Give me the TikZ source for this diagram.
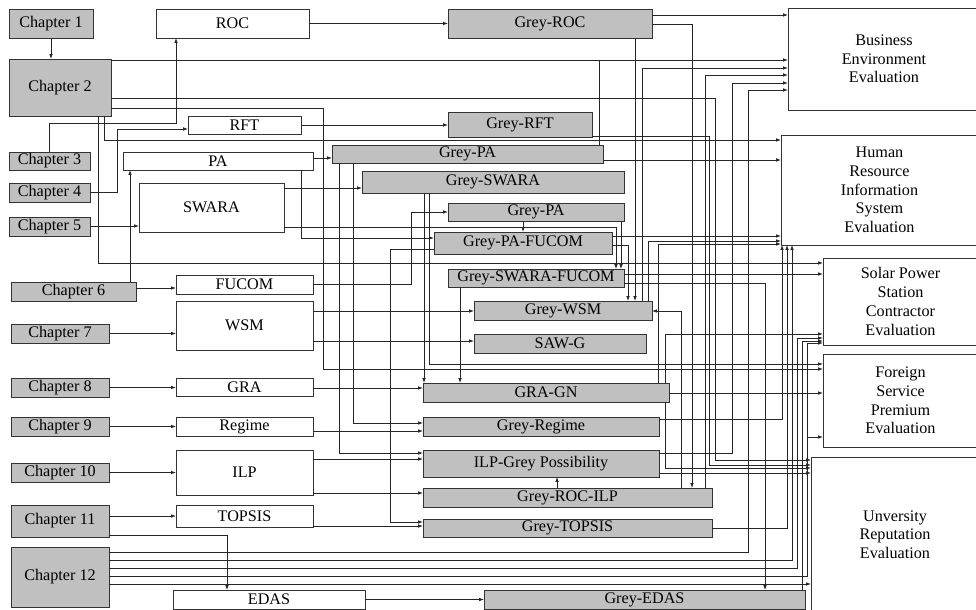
\documentclass[tikz,border=0pt]{standalone}
\usepackage{fontspec}
\setmainfont{Liberation Serif}
\usetikzlibrary{arrows.meta}

\definecolor{boxgrey}{HTML}{C0C0C0}
\tikzset{
  wbox/.style={draw=black!80, fill=white, line width=0.7pt, inner sep=0pt, outer sep=0pt,
    align=center, font=\fontsize{11.5}{13.3}\selectfont},
  gbox/.style={wbox, fill=boxgrey},
  wire/.style={line width=0.6pt, draw=black!85},
  arr/.style={wire, -{Latex[length=3.5pt,width=2.6pt]}}
}

\begin{document}
\begin{tikzpicture}[x=0.025cm,y=-0.025cm]
\useasboundingbox (0,0) rectangle (976,610);

% Главы (серые блоки)
\foreach \n/\xl/\yt/\xr/\yb/\t in {c1/9/9/93/38/{Chapter 1}, c2/9/59/111/116/{Chapter 2},
    c3/9/152/90/170/{Chapter 3}, c4/9/183/90/202/{Chapter 4}, c5/9/217/90/236/{Chapter 5},
    c6/11/282/136/301/{Chapter 6}, c7/11/324/109/343/{Chapter 7}, c8/11/378/109/397/{Chapter 8},
    c9/11/417/109/436/{Chapter 9}, c10/11/463/109/482/{Chapter 10},
    c11/11/505/109/537/{Chapter 11}, c12/11/547/109/607/{Chapter 12}}
  \node[gbox, minimum width={(\xr-\xl)*0.025cm}, minimum height={(\yb-\yt)*0.025cm}]
    (\n) at ({(\xl+\xr)/2},{(\yt+\yb)/2}) {\t};

% Методы (белые блоки) и оценки
\foreach \n/\xl/\yt/\xr/\yb/\t in {roc/156/9/309/38/ROC, rft/188/116/301/134/RFT,
    pa/123/152/313/170/PA, swara/139/183/284/232/SWARA, fucom/176/275/313/294/FUCOM,
    wsm/176/301/313/350/WSM, gra/176/378/313/396/GRA, regime/176/417/313/436/Regime,
    ilp/176/450/313/495/ILP, topsis/176/505/313/527/TOPSIS, edas/173/590/365/609/EDAS,
    bee/788/8/980/110/{Business\\Environment\\Evaluation},
    hris/781/135/978/245/{Human\\Resource\\Information\\System\\Evaluation},
    solar/823/258/978/345/{Solar Power\\Station\\Contractor\\Evaluation},
    foreign/823/354/978/447/{Foreign\\Service\\Premium\\Evaluation},
    univ/811/457/979/612/{Unversity\\Reputation\\Evaluation}}
  \node[wbox, minimum width={(\xr-\xl)*0.025cm}, minimum height={(\yb-\yt)*0.025cm}]
    (\n) at ({(\xl+\xr)/2},{(\yt+\yb)/2}) {\t};

% Серые методы
\foreach \n/\xl/\yt/\xr/\yb/\t in {groc/448/9/652/38/Grey-ROC, grft/448/112/592/137/Grey-RFT,
    gpa/332/145/603/163/Grey-PA, gswara/362/171/624/193/Grey-SWARA,
    gpab/448/203/624/221/Grey-PA, gpafucom/434/232/612/254/Grey-PA-FUCOM,
    gsf/448/269/624/287/Grey-SWARA-FUCOM, gwsm/474/301/652/320/Grey-WSM,
    sawg/474/334/646/353/SAW-G, gragn/423/383/669/402/GRA-GN,
    gregime/423/417/659/436/Grey-Regime, ilpgp/423/450/659/477/ILP-Grey Possibility,
    grocilp/423/488/712/507/Grey-ROC-ILP, gtopsis/423/519/712/537/Grey-TOPSIS,
    gedas/484/590/805/609/Grey-EDAS}
  \node[gbox, minimum width={(\xr-\xl)*0.025cm}, minimum height={(\yb-\yt)*0.025cm}]
    (\n) at ({(\xl+\xr)/2},{(\yt+\yb)/2}) {\t};

% Главы -> методы
\draw[arr] (c1.south) -- (c1.south |- c2.north);
\draw[arr] (c3.north) |- (176,123) -- (roc.south -| 176,0);
\draw[arr] (c4.east |- 0,192) -| (117,129) -- (rft.west |- 0,129);
\draw[arr] (c5.east |- 0,226) -- (swara.west |- 0,226);
\draw[arr] (c6.north -| 130,0) -- (pa.south -| 130,0);
\draw[arr] (c6.east |- 0,288) -- (fucom.west |- 0,288);
\draw[arr] (c7.east) -- (wsm.west |- c7.east);
\draw[arr] (c8.east) -- (gra.west |- c8.east);
\draw[arr] (c9.east) -- (regime.west |- c9.east);
\draw[arr] (c10.east) -- (ilp.west |- c10.east);
\draw[arr] (c11.east |- topsis.west) -- (topsis.west);
\draw[arr] (c11.east |- 0,535) -| (edas.north -| 227,0);

% Глава 2 -> оценки
\draw[arr] (c2.east |- 0,60) -- (bee.west |- 0,60);
\draw[arr] (c2.east |- 0,98) -| (715,460) -- (univ.west |- 0,460);
\draw[arr] (c2.east |- 0,108) -| (323,369) -- (foreign.west |- 0,369);
\draw[arr] (c2.south -| 104,0) |- (hris.west |- 0,140);
\draw[arr] (c2.south -| 98,0) |- (solar.west |- 0,263);

% Глава 12 -> оценки
\draw[arr] (c12.east |- 0,552) -| (748,90) -- (bee.west |- 0,90);
\draw[arr] (c12.east |- 0,560) -| (hris.south -| 792,0);
\draw[arr] (c12.east |- 0,568) -| (797,338) -- (solar.west |- 0,338);
\draw[arr] (c12.east |- 0,576) -| (807,343) -- (solar.west |- 0,343);
\draw[arr] (807,437) -- (foreign.west |- 0,437);
\draw[arr] (c12.east |- 0,584) -- (univ.west |- 0,584);

% Методы -> серые методы
\draw[arr] (roc) -- (groc);
\draw[arr] (rft) -- (grft.west |- rft);
\draw[arr] (pa.east |- 0,158) -- (gpa.west |- 0,158);
\draw[arr] (swara.east |- 0,188) -- (gswara.west |- 0,188);
\draw[arr] (swara.east |- 0,227) -| (gsf.north -| 616,0);
\draw[arr] (pa.south -| 301,0) |- (gpafucom.west |- 0,238);
\draw[arr] (fucom.east |- 0,284) -| (411,212) -- (gpab.west |- 0,212);
\draw[arr] (wsm.east |- 0,311) -- (gwsm.west |- 0,311);
\draw[arr] (wsm.east |- 0,341) -- (sawg.west |- 0,341);
\draw[arr] (gra.east |- 0,388) -- (gragn.west |- 0,388);
\draw[arr] (regime.east |- 0,431) -- (gregime.west |- 0,431);
\draw[arr] (ilp.east |- 0,459) -- (ilpgp.west |- 0,459);
\draw[arr] (ilp.east |- 0,493) -- (grocilp.west |- 0,493);
\draw[arr] (topsis.east |- 0,526) -- (gtopsis.west |- 0,526);
\draw[arr] (edas) -- (gedas);

% Серые методы между собой
\draw[arr] (gpa.south -| 339,0) |- (ilpgp.west |- 0,453);
\draw[arr] (gpa.south -| 353,0) |- (gregime.west |- 0,423);
\draw[arr] (gswara.south -| 424,0) -- (gragn.north -| 424,0);
\draw[arr] (gpab.south -| 523,0) -- (gpafucom.north -| 523,0);
\draw[arr] (gpab.south -| 621,0) -- (gsf.north -| 621,0);
\draw[arr] (gpafucom.west |- 0,249) -| (390,522) -- (gtopsis.west |- 0,522);
\draw[arr] (gpafucom.east |- 0,245) -| (gwsm.north -| 628,0);
\draw[arr] (groc.south -| 635,0) -- (gwsm.north -| 635,0);
\draw[arr] (groc.east |- 0,24) -| (grocilp.north -| 692,0);
\draw[arr] (gsf.south -| 460,0) -- (gragn.north -| 460,0);
\draw[arr] (gsf.east |- 0,283) -| (gedas.north -| 765,0);
\draw[arr] (grocilp.north -| 681,0) |- (gwsm.east |- 0,311);
\draw[arr] (grocilp.north -| 557,0) -- (ilpgp.south -| 557,0);

% Серые методы -> оценки
\draw[arr] (groc.east |- 0,15) -- (bee.west |- 0,15);
\draw[wire] (gpa.north -| 599,0) -- (599,60);
\draw[arr] (gpa.east |- 0,160) -- (hris.west |- 0,160);
\draw[arr] (grft.east |- 0,136) -| (709,465) -- (univ.west |- 0,465);
\draw[arr] (gswara.south -| 429,0) |- (foreign.west |- 0,364);
\draw[arr] (gpafucom.east |- 0,236) -- (hris.west |- 0,236);
\draw[arr] (gsf.east |- 0,274) -- (solar.west |- 0,274);
\draw[arr] (gwsm.north -| 642,0) |- (bee.west |- 0,68);
\draw[arr] (gwsm.north -| 648,0) |- (hris.west |- 0,241);
\draw[arr] (gragn.north -| 658,0) |- (hris.west |- 0,244);
\draw[arr] (gragn.north -| 665,0) |- (solar.west |- 0,334);
\draw[arr] (gragn.south -| 665,0) |- (univ.west |- 0,468);
\draw[arr] (gragn.east |- 0,393) -- (foreign.west |- 0,393);
\draw[arr] (gregime.east |- 0,419) -| (hris.south -| 782,0);
\draw[arr] (ilpgp.east |- 0,453) -| (732,83) -- (bee.west |- 0,83);
\draw[arr] (ilpgp.east |- 0,473) -- (univ.west |- 0,473);
\draw[arr] (grocilp.north -| 705,0) |- (bee.west |- 0,75);
\draw[arr] (gtopsis.east |- 0,528) -| (hris.south -| 787,0);
\draw[arr] (gedas.north -| 802,0) |- (solar.west |- 0,341);
\end{tikzpicture}
\end{document}
